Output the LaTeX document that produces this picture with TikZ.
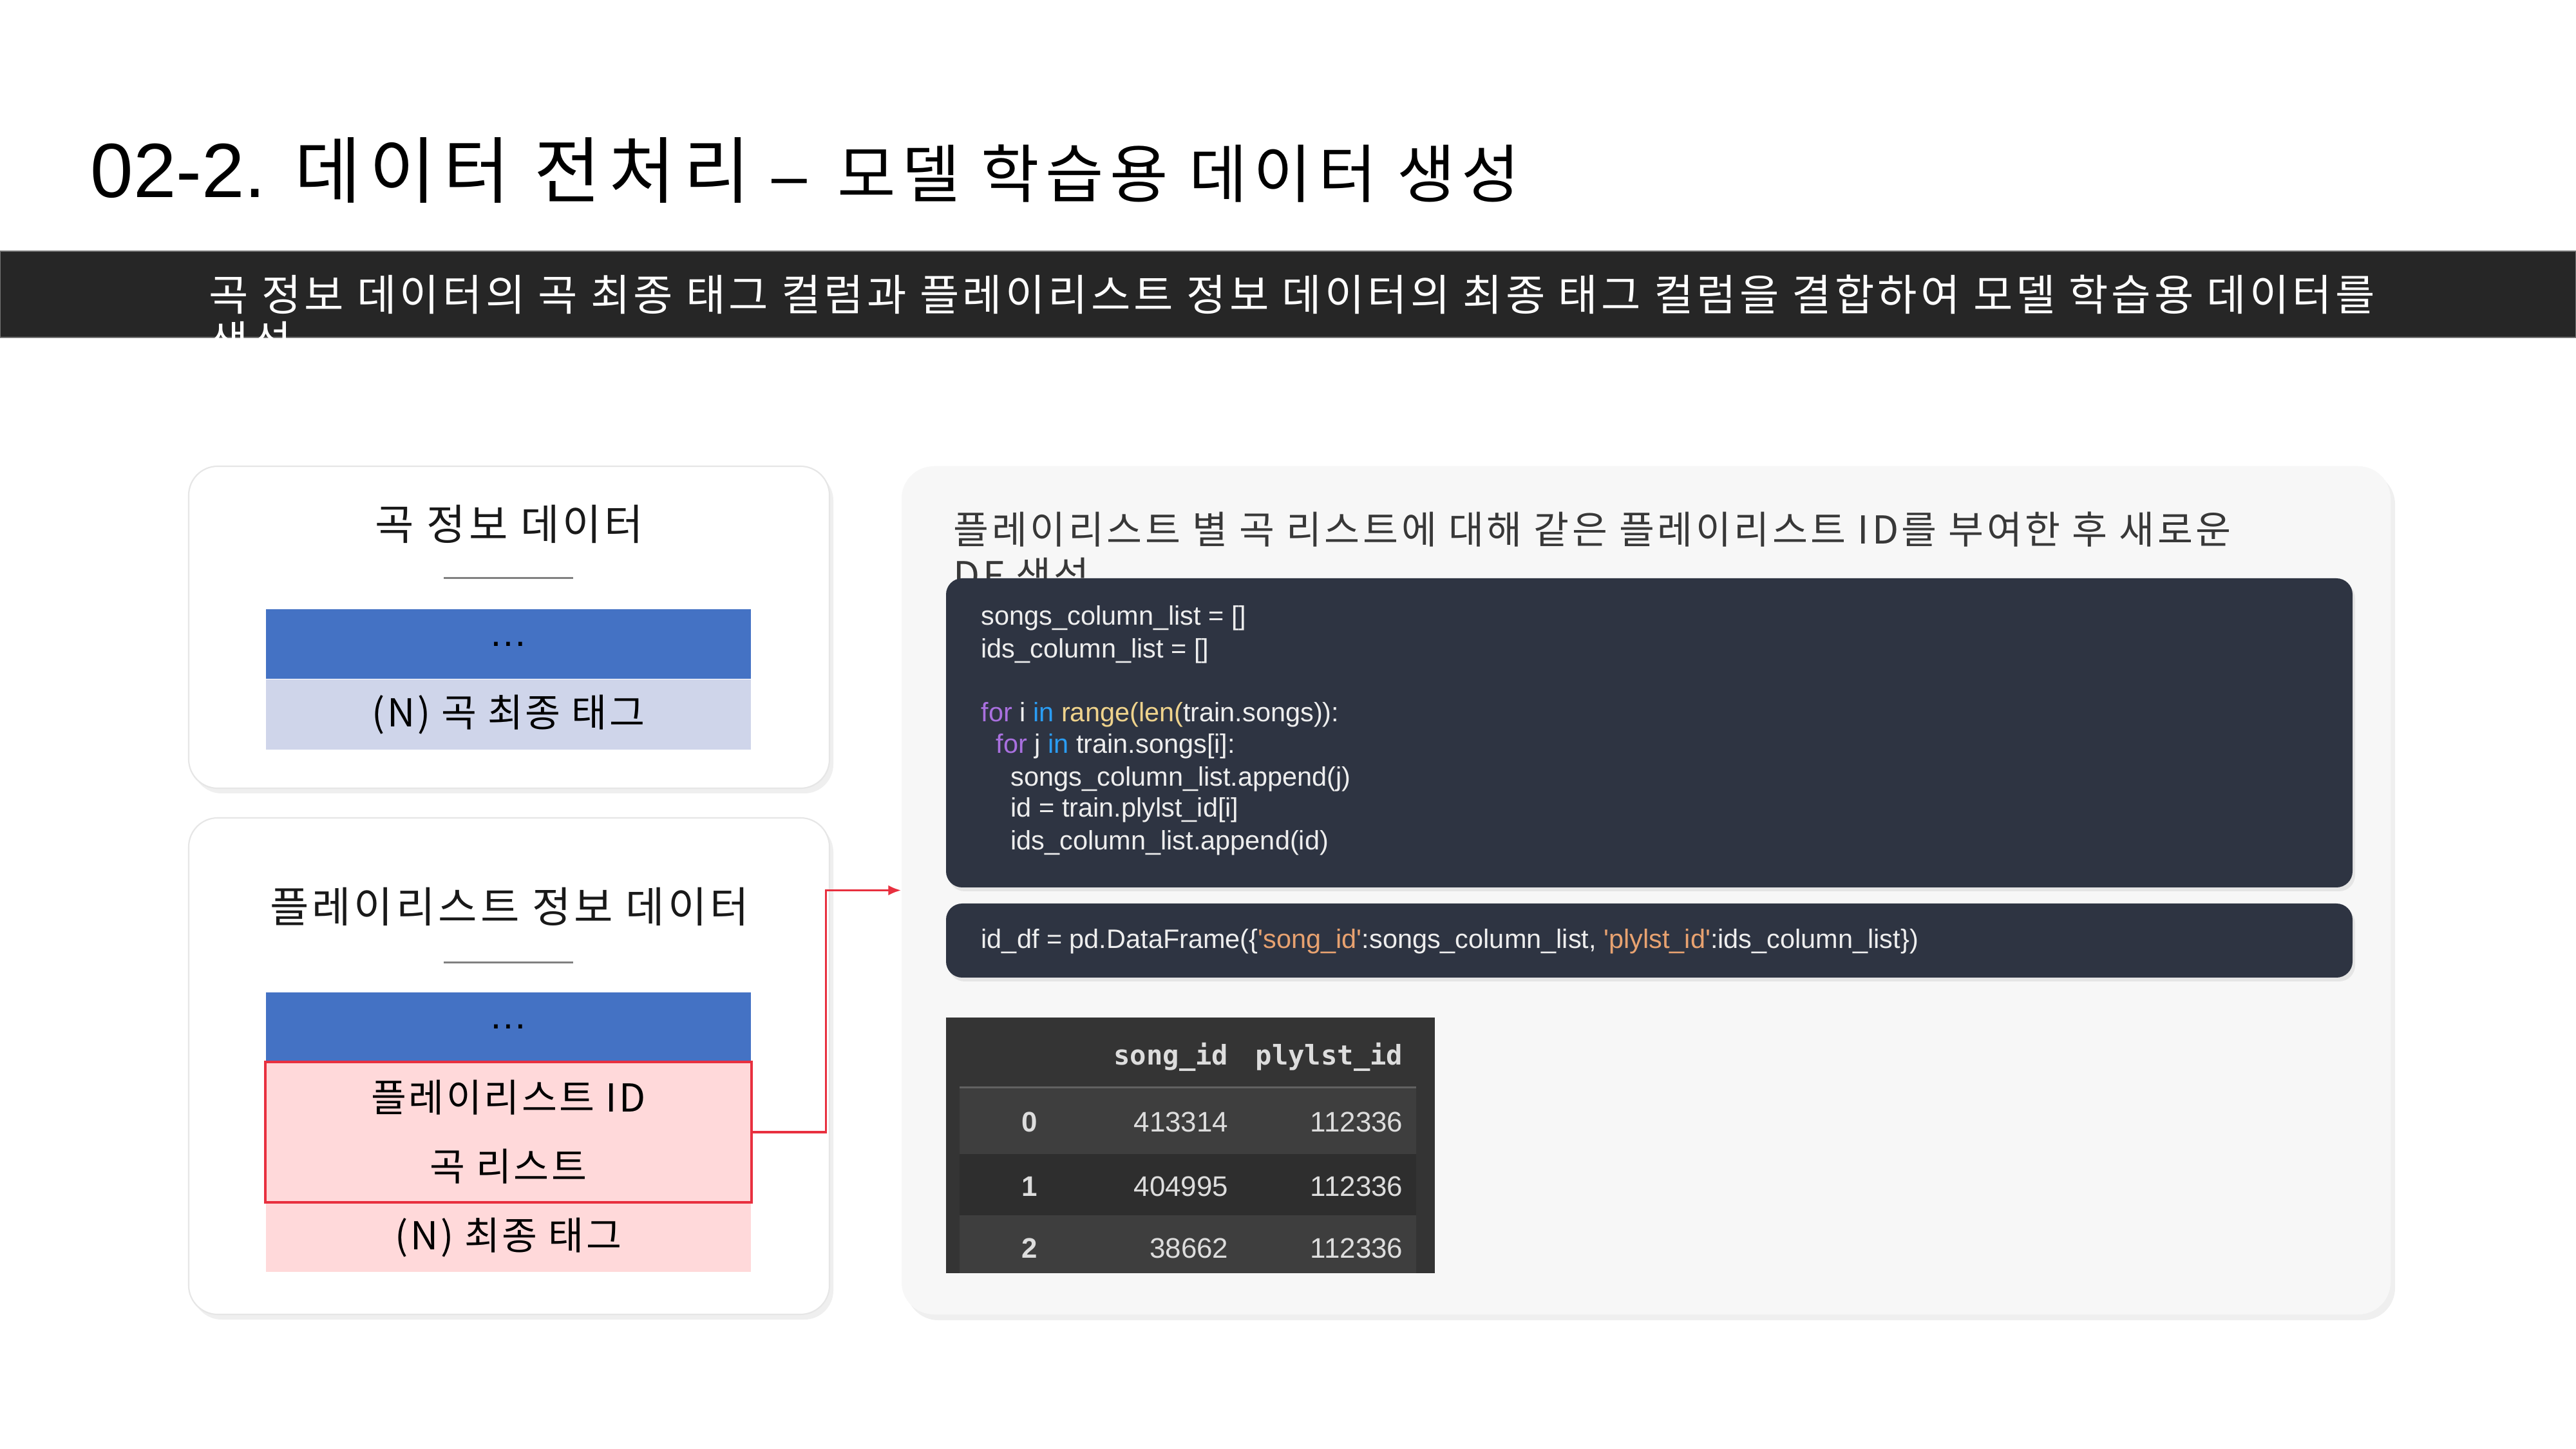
\documentclass[tikz,border=0pt]{standalone}
\usepackage{fontspec}
\setmainfont{Liberation Sans}
\newfontfamily\kr[LetterSpace=6]{Noto Sans CJK KR}
\newfontfamily\krbody[LetterSpace=7.7]{Noto Sans CJK KR}
\newfontfamily\krcard[LetterSpace=7.5]{Noto Sans CJK KR}
\newfontfamily\krhead[LetterSpace=11]{Noto Sans CJK KR}
\newfontfamily\krwide[LetterSpace=10]{Noto Sans CJK KR}
\newfontfamily\tablemono{DejaVu Sans Mono}
\usepackage{tikz}
\usetikzlibrary{arrows.meta,positioning,shadows}
\definecolor{bandgray}{HTML}{262626}
\definecolor{cardline}{HTML}{E6E6E6}
\definecolor{panelbg}{HTML}{F7F7F7}
\definecolor{codebg}{HTML}{2E3442}
\definecolor{codefg}{HTML}{EEEEEE}
\definecolor{kwpurple}{HTML}{A970DF}
\definecolor{kwblue}{HTML}{2A9DF4}
\definecolor{kwyellow}{HTML}{EFD38C}
\definecolor{strorange}{HTML}{E8A270}
\definecolor{barblue}{HTML}{4472C4}
\definecolor{barlav}{HTML}{CFD5EA}
\definecolor{barpink}{HTML}{FFD9DA}
\definecolor{edgered}{HTML}{E8303F}
\definecolor{tablebg}{HTML}{343434}
\definecolor{rowlight}{HTML}{3E3E3E}
\definecolor{rowdark}{HTML}{2E2E2E}
\definecolor{tablefg}{HTML}{DDDDDD}
\tikzset{
  titletext/.style={anchor=base west, inner sep=0, font=\fontsize{34}{40}\selectfont},
  band/.style={fill=bandgray, draw=black!55, line width=0.02cm, minimum width=40cm, minimum height=1.34cm, inner sep=0},
  bandtext/.style={anchor=base west, inner sep=0, text=white, font=\krbody\fontsize{19}{22}\selectfont},
  card/.style={draw=cardline, fill=white, line width=0.6pt, rounded corners=4.5mm, inner sep=0, minimum width=9.95cm,
    drop shadow={shadow xshift=0.06cm, shadow yshift=-0.08cm, opacity=0.12}},
  cardtitle/.style={inner sep=0, font=\krcard\fontsize{18.7}{22}\selectfont, text=black!90},
  titlerule/.style={draw=black!50, line width=0.03cm},
  bar/.style={minimum width=7.53cm, minimum height=1.08cm, inner sep=0, font=\kr\fontsize{17}{20}\selectfont},
  bartext/.style={inner sep=0, font=\kr\fontsize{17}{20}\selectfont},
  keybox/.style={draw=edgered, line width=0.04cm},
  linkarc/.style={-{Latex[length=2mm, width=1.6mm]}, draw=edgered, line width=0.035cm},
  panelbox/.style={fill=panelbg, rounded corners=5mm, inner sep=0,
    drop shadow={shadow xshift=0.07cm, shadow yshift=-0.09cm, opacity=0.12}},
  captiontext/.style={anchor=base west, inner sep=0, text=black!78, font=\krbody\fontsize{17}{20}\selectfont},
  codebox/.style={fill=codebg, rounded corners=2.5mm, inner sep=0, minimum width=21.84cm,
    drop shadow={shadow xshift=0.04cm, shadow yshift=-0.06cm, opacity=0.15}},
  codetext/.style={anchor=base west, inner sep=0, text=codefg, font=\fontsize{11.8}{14}\selectfont},
  tablehead/.style={anchor=base east, inner sep=0, text=tablefg, font=\tablemono\bfseries\fontsize{12}{14}\selectfont},
  tablecell/.style={anchor=base east, inner sep=0, text=tablefg, font=\fontsize{12.5}{14}\selectfont},
  tableindex/.style={anchor=base, inner sep=0, text=tablefg, font=\bfseries\fontsize{12.5}{14}\selectfont}
}

\begin{document}
\begin{tikzpicture}
  \useasboundingbox (0,0) rectangle (40,-22.5);
  \fill[white] (0,0) rectangle (40,-22.5);

  % heading
  \node[titletext] (title) at (1.40,-3.07) {02-2. {\krhead\fontsize{32}{38}\selectfont 데이터 전처리} {\fontsize{28}{34}\selectfont –\hspace{0.2cm} \krwide 모델 학습용 데이터 생성}};

  \node[band] (band) at (20,-4.57) {};
  \begin{scope}
    \clip (band.south west) rectangle (band.north east);
    \node[bandtext] (bandone) at (3.24,-4.83) {곡 정보 데이터의 곡 최종 태그 컬럼과 플레이리스트 정보 데이터의 최종 태그 컬럼을 결합하여 모델 학습용 데이터를};
    \node[bandtext] (bandtwo) at (3.24,-5.55) {생성};
  \end{scope}

  % song info card
  \node[card, minimum height=5.00cm] (songcard) at (7.905,-9.74) {};
  \node[cardtitle] (songtitle) at (7.91,-8.14) {곡 정보 데이터};
  \draw[titlerule] (6.89,-8.98) -- (8.90,-8.98);
  \node[bar, fill=barblue, font=\fontsize{17}{20}\selectfont] (songdots) at (7.895,-10.00) {…};
  \node[bar, fill=barlav, minimum height=1.09cm, below=0pt of songdots] (songtag) {(N) 곡 최종 태그};

  % playlist info card
  \node[card, minimum height=7.71cm] (plcard) at (7.905,-16.555) {};
  \node[cardtitle] (pltitle) at (7.91,-14.08) {플레이리스트 정보 데이터};
  \draw[titlerule] (6.89,-14.95) -- (8.90,-14.95);
  \node[bar, fill=barblue, minimum height=1.07cm, font=\fontsize{17}{20}\selectfont] (pldots) at (7.895,-15.945) {…};
  \node[bar, fill=barpink, minimum height=2.17cm, below=0pt of pldots] (plid) {};
  \node[bar, fill=barpink, minimum height=1.07cm, below=0pt of plid] (pltag) {(N) 최종 태그};
  \node[bartext] (plidtext) at (7.895,-17.04) {플레이리스트 ID};
  \node[bartext] (plsongs) at (7.895,-18.11) {곡 리스트};
  \draw[keybox] (plid.south west) rectangle (plid.north east);

  % right panel
  \node[panelbox, minimum width=23.12cm, minimum height=13.17cm] (panel) at (25.56,-13.825) {};
  \node[captiontext] (capone) at (14.80,-8.45) {플레이리스트 별 곡 리스트에 대해 같은 플레이리스트 ID를 부여한 후 새로운};
  \node[captiontext] (captwo) at (14.80,-9.16) {DF 생성};

  \node[codebox, minimum height=4.80cm] (loopbox) at (25.61,-11.38) {};
  \node[codetext] (codea) at (15.23,-9.71) {songs\_column\_list = []};
  \node[codetext] (codeb) at (15.23,-10.22) {ids\_column\_list = []};
  \node[codetext] (codec) at (15.23,-11.21) {\textcolor{kwpurple}{for} i \textcolor{kwblue}{in} \textcolor{kwyellow}{range(len(}train.songs)):};
  \node[codetext] (coded) at (15.46,-11.70) {\textcolor{kwpurple}{for} j \textcolor{kwblue}{in} train.songs[i]:};
  \node[codetext] (codee) at (15.69,-12.21) {songs\_column\_list.append(j)};
  \node[codetext] (codef) at (15.69,-12.69) {id = train.plylst\_id[i]};
  \node[codetext] (codeg) at (15.69,-13.20) {ids\_column\_list.append(id)};

  \node[codebox, minimum height=1.15cm] (dfbox) at (25.61,-14.605) {};
  \node[codetext] (dfline) at (15.23,-14.73) {id\_df = pd.DataFrame(\{\textcolor{strorange}{\textquotesingle song\_id\textquotesingle}:songs\_column\_list, \textcolor{strorange}{\textquotesingle plylst\_id\textquotesingle}:ids\_column\_list\})};

  % result table
  \node[fill=tablebg, minimum width=7.59cm, minimum height=3.97cm, inner sep=0] (dftable) at (18.485,-17.785) {};
  \fill[rowlight] (14.90,-16.90) rectangle (21.99,-17.92);
  \fill[rowdark] (14.90,-17.92) rectangle (21.99,-18.87);
  \fill[rowlight] (14.90,-18.87) rectangle (21.99,-19.77);
  \draw[black!62, line width=0.03cm] (14.90,-16.88) -- (21.99,-16.88);
  \node[tablehead] (headsong) at (19.08,-16.53) {song\_id};
  \node[tablehead] (headpl) at (21.79,-16.53) {plylst\_id};
  \node[tableindex] (rowzero) at (15.99,-17.57) {0};
  \node[tablecell] (songzero) at (19.08,-17.57) {413314};
  \node[tablecell] (plzero) at (21.79,-17.57) {112336};
  \node[tableindex] (rowone) at (15.99,-18.57) {1};
  \node[tablecell] (songone) at (19.08,-18.57) {404995};
  \node[tablecell] (plone) at (21.79,-18.57) {112336};
  \node[tableindex] (rowtwo) at (15.99,-19.53) {2};
  \node[tablecell] (songtwo) at (19.08,-19.53) {38662};
  \node[tablecell] (pltwo) at (21.79,-19.53) {112336};

  \draw[linkarc] (plid.east) -- ++(1.16,0) |- (panel.west);
\end{tikzpicture}
\end{document}
